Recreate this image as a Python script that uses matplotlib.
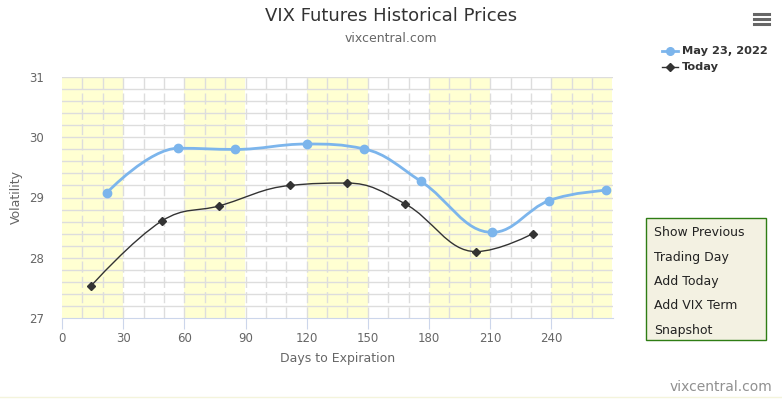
import matplotlib.pyplot as plt
from matplotlib.path import Path
from matplotlib.patches import PathPatch, FancyBboxPatch
from matplotlib.lines import Line2D
import numpy as np

# data
may_days = [22, 57, 85, 120, 148, 176, 211, 239, 267]
may_vals = [29.08, 29.82, 29.80, 29.89, 29.81, 29.27, 28.42, 28.95, 29.12]
today_days = [14, 49, 77, 112, 140, 168, 203, 231]
today_vals = [27.52, 28.61, 28.86, 29.20, 29.24, 28.90, 28.10, 28.40]

band_starts = [0, 60, 120, 180, 240]
x_ticks = [0, 30, 60, 90, 120, 150, 180, 210, 240]
y_ticks = [27, 28, 29, 30, 31]
buttons = ["Show Previous", "Trading Day", "Add Today", "Add VIX Term", "Snapshot"]

BLUE = "#7cb5ec"
DARK = "#333333"
GRID = "#dddddd"
TXT = "#666666"


def spline_path(xs, ys, smoothing=1.5):
    # highcharts style spline: cubic bezier with control points from neighbours
    n = len(xs)
    left = [(xs[i], ys[i]) for i in range(n)]
    right = [(xs[i], ys[i]) for i in range(n)]
    den = smoothing + 1
    for i in range(1, n - 1):
        lx, ly = xs[i - 1], ys[i - 1]
        nx, ny = xs[i + 1], ys[i + 1]
        px, py = xs[i], ys[i]
        lcx = (smoothing * px + lx) / den
        lcy = (smoothing * py + ly) / den
        rcx = (smoothing * px + nx) / den
        rcy = (smoothing * py + ny) / den
        if rcx != lcx:
            corr = (rcy - lcy) * (rcx - px) / (rcx - lcx) + py - rcy
            lcy += corr
            rcy += corr
        if lcy > ly and lcy > py:
            lcy = max(ly, py)
            rcy = 2 * py - lcy
        elif lcy < ly and lcy < py:
            lcy = min(ly, py)
            rcy = 2 * py - lcy
        if rcy > ny and rcy > py:
            rcy = max(ny, py)
            lcy = 2 * py - rcy
        elif rcy < ny and rcy < py:
            rcy = min(ny, py)
            lcy = 2 * py - rcy
        left[i] = (lcx, lcy)
        right[i] = (rcx, rcy)
    verts = [(xs[0], ys[0])]
    codes = [Path.MOVETO]
    for i in range(1, n):
        verts += [right[i - 1], left[i], (xs[i], ys[i])]
        codes += [Path.CURVE4] * 3
    return Path(verts, codes)


fig = plt.figure(figsize=(7.82, 3.99), dpi=100)
ax = fig.add_axes([62 / 782, 1 - 317.7 / 399, 550.5 / 782, 240.4 / 399])

ax.set_xlim(0, 270)
ax.set_ylim(27, 31)

for s in band_starts:
    ax.axvspan(s, s + 30, color="#ffffd2", lw=0, zorder=0)

for v in np.arange(27.2, 31.01, 0.2):
    ax.axhline(v, color=GRID, lw=1, zorder=1)
for d in range(10, 270, 10):
    ax.axvline(d, color=GRID, lw=1, ls=(0, (8, 3)), zorder=1)

ax.add_patch(PathPatch(spline_path(may_days, may_vals), fc="none", ec=BLUE, lw=2, zorder=3))
ax.plot(may_days, may_vals, "o", color=BLUE, ms=6, zorder=4)
ax.add_patch(PathPatch(spline_path(today_days, today_vals), fc="none", ec=DARK, lw=1, zorder=3))
ax.plot(today_days, today_vals, "D", color=DARK, ms=4.2, zorder=4)

for sp in ["top", "right", "left"]:
    ax.spines[sp].set_visible(False)
ax.spines["bottom"].set_color("#ccd6eb")
ax.set_xticks(x_ticks)
ax.set_yticks(y_ticks)
ax.tick_params(axis="x", colors="#ccd6eb", length=8, labelcolor=TXT, labelsize=8.5, pad=2)
ax.tick_params(axis="y", length=0, labelcolor=TXT, labelsize=8.5, pad=13)
ax.set_xlabel("Days to Expiration", color=TXT, fontsize=9, labelpad=5)
ax.set_ylabel("Volatility", color=TXT, fontsize=9, labelpad=4)

fig.text(0.5, 1 - 16 / 399, "VIX Futures Historical Prices", ha="center", va="center",
         fontsize=13, color=DARK)
fig.text(0.5, 1 - 39 / 399, "vixcentral.com", ha="center", va="center", fontsize=9, color=TXT)

# legend
for i, (lab, col, mk, ms, lw) in enumerate([("May 23, 2022", BLUE, "o", 5.5, 2),
                                            ("Today", DARK, "D", 3.8, 1)]):
    yy = 1 - (51 + i * 16) / 399
    fig.add_artist(Line2D([662 / 782, 678 / 782], [yy, yy], color=col, lw=lw))
    fig.add_artist(Line2D([670 / 782], [yy], marker=mk, color=col, ms=ms))
    fig.text(682 / 782, yy, lab, fontsize=8.2, fontweight="bold", color=DARK, va="center")

# hamburger menu
for i in range(3):
    yy = 1 - (14 + i * 5) / 399
    fig.add_artist(Line2D([754 / 782, 769 / 782], [yy, yy], color="#666666", lw=2.2))

# button box
fig.add_artist(FancyBboxPatch((646 / 782, 1 - 340 / 399), 120 / 782, 122 / 399,
                              boxstyle="square,pad=0", transform=fig.transFigure,
                              fc="#f3f1e2", ec="#2e7d14", lw=1))
for i, b in enumerate(buttons):
    yy = 1 - (233 + i * 24.3) / 399
    fig.text(654 / 782, yy, b, fontsize=9, color="#222222", va="center")

fig.text(772 / 782, 1 - 387 / 399, "vixcentral.com", ha="right", va="center",
         fontsize=10, color="#909090")
fig.add_artist(Line2D([0, 1], [1 - 396.5 / 399] * 2, color="#f4f4dc", lw=1))

fig.savefig("out.png", dpi=100, facecolor="white")
